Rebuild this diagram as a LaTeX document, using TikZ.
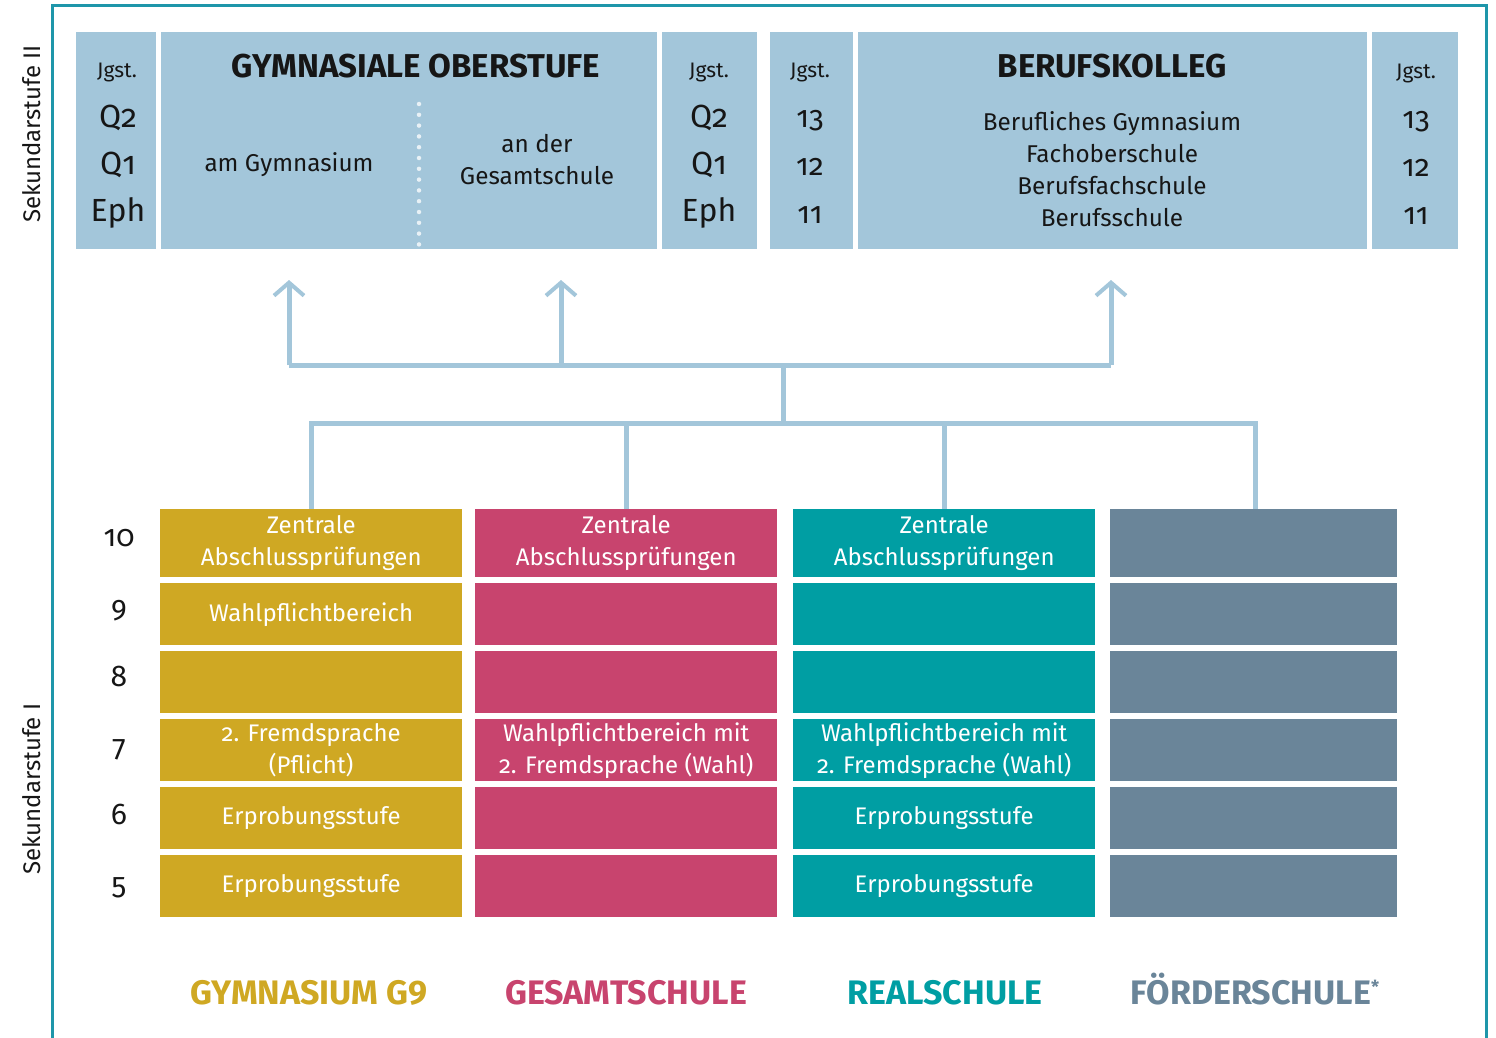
\documentclass[tikz,border=0pt]{standalone}
\usepackage{fontspec}
\setmainfont{Fira Sans}[Numbers=OldStyle]
\usetikzlibrary{arrows.meta}
\definecolor{gold}{RGB}{207,168,35}
\definecolor{pinkc}{RGB}{200,68,110}
\definecolor{tealc}{RGB}{0,158,163}
\definecolor{slate}{RGB}{106,133,153}
\definecolor{lblue}{RGB}{163,198,218}
\definecolor{framec}{RGB}{30,150,170}
\definecolor{ink}{RGB}{22,22,22}
\newcommand{\fsz}[1]{\fontsize{#1}{#1}\selectfont}
\tikzset{
  tbox/.style={fill=lblue, inner sep=0pt, anchor=north west},
  cell/.style={inner sep=0pt, anchor=north west, text=white, align=center,
    font=\fontsize{24}{32}\selectfont},
  jg/.style={text=ink, font=\fsz{21}, inner sep=0pt},
  qn/.style={text=ink, font=\fsz{32}, inner sep=0pt},
  bn/.style={text=ink, font=\fsz{30}, inner sep=0pt},
  tl/.style={text=ink, font=\fontsize{24.3}{32}\selectfont, align=center, inner sep=0pt},
  ttl/.style={text=ink, font=\bfseries\fsz{33}, inner sep=0pt},
  rn/.style={text=ink, font=\fsz{30}, inner sep=0pt},
  side/.style={text=ink, font=\fsz{24}, rotate=90, inner sep=0pt},
  blab/.style={font=\bfseries\addfontfeatures{Numbers=Lining}\fsz{34}, inner sep=0pt, anchor=base},
  conn/.style={draw=lblue, line width=5pt},
  arr/.style={conn, -{Straight Barb[length=13pt, width=30pt, line width=4pt]}},
}
\begin{document}
\begin{tikzpicture}[x=1pt,y=-1pt]
\useasboundingbox (0,0) rectangle (1496,1038);
% frame
\draw[framec, line width=3pt] (52,1040) -- (52,6) -- (1486,6) -- (1486,1040);
% side labels
\node[side] (s2) at (32,134) {Sekundarstufe II};
\node[side] (s1) at (32,789) {Sekundarstufe I};

% top boxes
\node[tbox, minimum width=80pt, minimum height=217pt] (j1) at (76,32) {};
\node[tbox, minimum width=496pt, minimum height=217pt] (go) at (161,32) {};
\node[tbox, minimum width=95pt, minimum height=217pt] (j2) at (662,32) {};
\node[tbox, minimum width=83pt, minimum height=217pt] (j3) at (770,32) {};
\node[tbox, minimum width=509pt, minimum height=217pt] (bk) at (858,32) {};
\node[tbox, minimum width=86pt, minimum height=217pt] (j4) at (1372,32) {};

\draw[white!75!lblue, line width=4.5pt, line cap=round, dash pattern=on 0pt off 10.8pt] (419,104) -- (419,249);

% column 1
\node[jg] (j1a) at (117,73) {Jgst.};
\node[qn] (j1b) at (118,118) {Q2};
\node[qn] (j1c) at (118,165) {Q1};
\node[qn] (j1d) at (118,213) {Eph};
% column 2
\node[jg] (j2a) at (709,73) {Jgst.};
\node[qn] (j2b) at (709,118) {Q2};
\node[qn] (j2c) at (709,165) {Q1};
\node[qn] (j2d) at (709,213) {Eph};
% column 3
\node[jg] (j3a) at (810,73) {Jgst.};
\node[bn] (j3b) at (810,121) {13};
\node[bn] (j3c) at (810,167) {12};
\node[bn] (j3d) at (810,215) {11};
% column 4
\node[jg] (j4a) at (1416,74) {Jgst.};
\node[bn] (j4b) at (1416,122) {13};
\node[bn] (j4c) at (1416,168) {12};
\node[bn] (j4d) at (1416,216) {11};

\node[ttl] (got) at (416,66) {GYMNASIALE OBERSTUFE};
\node[tl] (gog) at (289,165) {am Gymnasium};
\node[tl] (gos) at (537,160) {an der\\Gesamtschule};
\node[ttl] (bkt) at (1112,66) {BERUFSKOLLEG};
\node[tl] (bkl) at (1112,169) {Berufliches Gymnasium\\Fachoberschule\\Berufsfachschule\\Berufsschule};

% grid
% Gymnasium
\node[cell, fill=gold, minimum width=302pt, minimum height=68pt] (g10) at (160,509) {Zentrale\\Abschlussprüfungen};
\node[cell, fill=gold, minimum width=302pt, minimum height=62pt] (g9) at (160,583) {Wahlpflichtbereich};
\node[cell, fill=gold, minimum width=302pt, minimum height=62pt] (g8) at (160,651) {};
\node[cell, fill=gold, minimum width=302pt, minimum height=62pt] (g7) at (160,719) {2. Fremdsprache\\(Pflicht)};
\node[cell, fill=gold, minimum width=302pt, minimum height=62pt] (g6) at (160,787) {Erprobungsstufe};
\node[cell, fill=gold, minimum width=302pt, minimum height=62pt] (g5) at (160,855) {Erprobungsstufe};
% Gesamtschule
\node[cell, fill=pinkc, minimum width=302pt, minimum height=68pt] (s10) at (475,509) {Zentrale\\Abschlussprüfungen};
\node[cell, fill=pinkc, minimum width=302pt, minimum height=62pt] (s9) at (475,583) {};
\node[cell, fill=pinkc, minimum width=302pt, minimum height=62pt] (s8) at (475,651) {};
\node[cell, fill=pinkc, minimum width=302pt, minimum height=62pt] (s7) at (475,719) {Wahlpflichtbereich mit\\2. Fremdsprache (Wahl)};
\node[cell, fill=pinkc, minimum width=302pt, minimum height=62pt] (s6) at (475,787) {};
\node[cell, fill=pinkc, minimum width=302pt, minimum height=62pt] (s5) at (475,855) {};
% Realschule
\node[cell, fill=tealc, minimum width=302pt, minimum height=68pt] (r10) at (793,509) {Zentrale\\Abschlussprüfungen};
\node[cell, fill=tealc, minimum width=302pt, minimum height=62pt] (r9) at (793,583) {};
\node[cell, fill=tealc, minimum width=302pt, minimum height=62pt] (r8) at (793,651) {};
\node[cell, fill=tealc, minimum width=302pt, minimum height=62pt] (r7) at (793,719) {Wahlpflichtbereich mit\\2. Fremdsprache (Wahl)};
\node[cell, fill=tealc, minimum width=302pt, minimum height=62pt] (r6) at (793,787) {Erprobungsstufe};
\node[cell, fill=tealc, minimum width=302pt, minimum height=62pt] (r5) at (793,855) {Erprobungsstufe};
% Foerderschule
\node[cell, fill=slate, minimum width=287pt, minimum height=68pt] (f10) at (1110,509) {};
\node[cell, fill=slate, minimum width=287pt, minimum height=62pt] (f9) at (1110,583) {};
\node[cell, fill=slate, minimum width=287pt, minimum height=62pt] (f8) at (1110,651) {};
\node[cell, fill=slate, minimum width=287pt, minimum height=62pt] (f7) at (1110,719) {};
\node[cell, fill=slate, minimum width=287pt, minimum height=62pt] (f6) at (1110,787) {};
\node[cell, fill=slate, minimum width=287pt, minimum height=62pt] (f5) at (1110,855) {};

% row numbers
\node[rn] (n10) at (119,538) {10};
\node[rn] (n9) at (119,611) {9};
\node[rn] (n8) at (119,676) {8};
\node[rn] (n7) at (119,750) {7};
\node[rn] (n6) at (119,814) {6};
\node[rn] (n5) at (119,888) {5};

% bottom labels
\node[blab, text=gold] (lg) at (309,1004) {GYMNASIUM G9};
\node[blab, text=pinkc] (ls) at (626,1004) {GESAMTSCHULE};
\node[blab, text=tealc] (lr) at (945,1004) {REALSCHULE};
\node[blab, text=slate] (lf) at (1255,1004) {FÖRDERSCHULE\raisebox{0.3em}{\fsz{18}*}};

% connectors
\coordinate (lowbar) at (783,423);
\coordinate (upbar) at (783,365);
\coordinate (ta) at (289,280);
\coordinate (tb) at (561,280);
\coordinate (tc) at (1111,280);
\coordinate (fx) at (1255,509);
\draw[conn] (g10.north) -- (g10.north |- lowbar) -- (fx |- lowbar) -- (fx);
\draw[conn] (s10.north) -- (s10.north |- lowbar);
\draw[conn] (r10.north) -- (r10.north |- lowbar);
\draw[conn] (lowbar) -- (upbar);
\draw[conn] (ta |- upbar) -- (tc |- upbar);
\draw[arr] (ta |- upbar) -- (ta);
\draw[arr] (tb |- upbar) -- (tb);
\draw[arr] (tc |- upbar) -- (tc);
\end{tikzpicture}
\end{document}
